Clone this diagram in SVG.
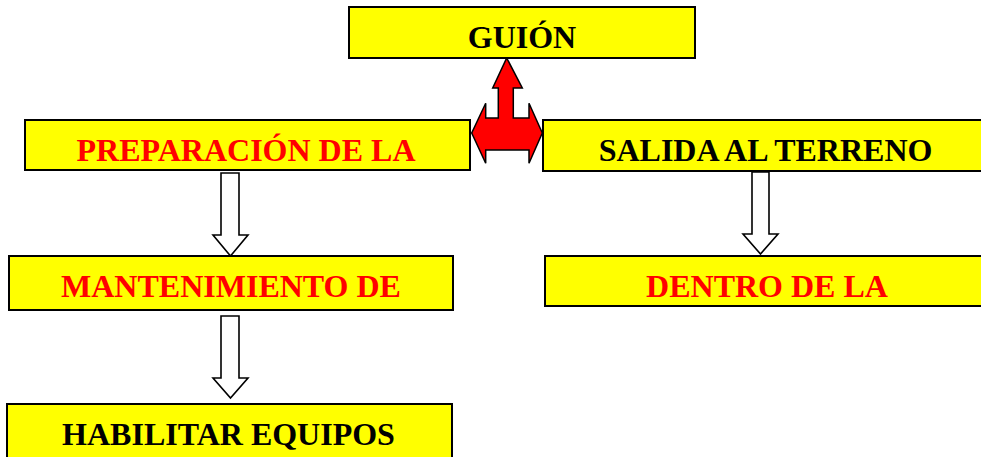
<svg xmlns="http://www.w3.org/2000/svg" width="981" height="457" viewBox="0 0 981 457">
<style>
.box{fill:#ffff00;stroke:#000;stroke-width:2}
.t{font-family:"Liberation Serif","Times New Roman",serif;font-weight:bold;font-size:32px;text-anchor:middle}
.red{fill:#ff0000}
.blk{fill:#000}
.down{fill:#fff;stroke:#000;stroke-width:1.6;stroke-linejoin:miter}
.dbl{fill:#ff0000;stroke:#000;stroke-width:1.5;stroke-linejoin:miter}
</style>
<rect width="981" height="457" fill="#fff"/>
<g id="connectors">
<polygon class="dbl" points="506.7,58 522.3,88 513.3,88 513.3,118 529,118 529,103.3 542.3,133 529,163.3 529,150 485.7,150 485.7,163.3 471.7,133 485.7,103.3 485.7,118 498.3,118 498.3,88 492.7,88"/>
<polygon class="down" points="221,173 239,173 239,235 248,235 230.5,256 213,235 221,235"/>
<polygon class="down" points="221,316 239,316 239,378 248,378 230.5,398 213,378 221,378"/>
<polygon class="down" points="752,172 769,172 769,234 778,234 760.5,254 743,234 752,234"/>
</g>
<g id="guion">
<rect class="box" x="349" y="7" width="346" height="51"/>
<text class="t blk" x="522" y="48">GUIÓN</text>
</g>
<g id="preparacion">
<rect class="box" x="25" y="120" width="445" height="50"/>
<text class="t red" x="246" y="161">PREPARACIÓN DE LA</text>
</g>
<g id="salida">
<rect class="box" x="543" y="120" width="446" height="51"/>
<text class="t blk" x="765.5" y="161">SALIDA AL TERRENO</text>
</g>
<g id="mantenimiento">
<rect class="box" x="9" y="256" width="444" height="54"/>
<text class="t red" x="231" y="297">MANTENIMIENTO DE</text>
</g>
<g id="dentro">
<rect class="box" x="545" y="256" width="445" height="50"/>
<text class="t red" x="767" y="297">DENTRO DE LA</text>
</g>
<g id="habilitar">
<rect class="box" x="7" y="404" width="445" height="60"/>
<text class="t blk" x="228.5" y="445">HABILITAR EQUIPOS</text>
</g>
</svg>
